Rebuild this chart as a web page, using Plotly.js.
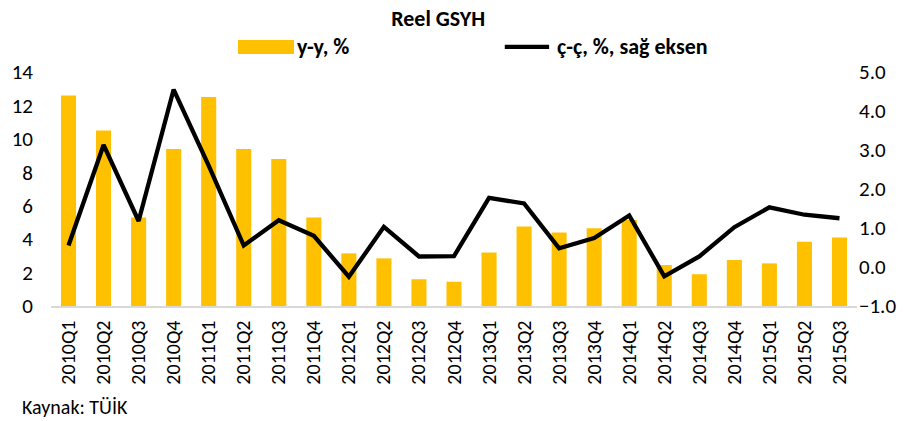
<!DOCTYPE html>
<html>
<head>
<meta charset="utf-8">
<script src="https://cdn.plot.ly/plotly-3.0.1.min.js"></script>
<style>html,body{margin:0;padding:0;background:#fff;}#chart{width:909px;height:421px;}</style>
</head>
<body>
<div id="chart"></div>
<script>
const categories = ["2010Q1","2010Q2","2010Q3","2010Q4","2011Q1","2011Q2","2011Q3","2011Q4",
  "2012Q1","2012Q2","2012Q3","2012Q4","2013Q1","2013Q2","2013Q3","2013Q4",
  "2014Q1","2014Q2","2014Q3","2014Q4","2015Q1","2015Q2","2015Q3"];
const yoy = [12.6, 10.5, 5.3, 9.4, 12.5, 9.4, 8.8, 5.3,
  3.15, 2.85, 1.6, 1.45, 3.2, 4.75, 4.4, 4.65,
  5.15, 2.45, 1.9, 2.75, 2.55, 3.85, 4.1];
const qoq = [0.55, 3.13, 1.18, 4.55, 2.6, 0.55, 1.2, 0.8,
  -0.25, 1.03, 0.27, 0.28, 1.77, 1.63, 0.48, 0.74,
  1.32, -0.24, 0.27, 1.02, 1.53, 1.34, 1.25];
const leftTicks = [0, 2, 4, 6, 8, 10, 12, 14];
const rightTicks = [-1, 0, 1, 2, 3, 4, 5];

const FONT = "Carlito, Lato, 'Open Sans', sans-serif";
const traces = [
  {type: "bar", x: categories, y: yoy, name: "y-y, %", marker: {color: "#FFC000"}, width: 0.43, yaxis: "y"},
  {type: "scatter", mode: "lines", x: categories, y: qoq, name: "ç-ç, %, sağ eksen", line: {color: "#000000", width: 4.3}, yaxis: "y2"}
];
const layout = {
  width: 909, height: 421,
  margin: {l: 51, r: 52, t: 72, b: 115},
  paper_bgcolor: "#fff", plot_bgcolor: "#fff",
  showlegend: false,
  font: {family: FONT, color: "#000", size: 21},
  title: {text: "<b>Reel GSYH</b>", x: 0.482, xanchor: "center", y: 0.957, yanchor: "middle", font: {family: FONT, size: 22, color: "#000"}},
  xaxis: {type: "category", tickangle: -90, showgrid: false, zeroline: false, showline: true, linecolor: "#d9d9d9", linewidth: 1.5,
    ticks: "", tickfont: {family: FONT, size: 20, color: "#000"}, ticklabelstandoff: 5},
  yaxis: {range: [0, 14], tickvals: leftTicks, showgrid: false, zeroline: false, showline: false, ticks: "",
    tickfont: {family: FONT, size: 21, color: "#000"}, ticklabelstandoff: 17},
  yaxis2: {range: [-1, 5], tickvals: rightTicks, tickformat: ".1f", overlaying: "y", side: "right", showgrid: false, zeroline: false,
    showline: false, ticks: "", tickfont: {family: FONT, size: 21, color: "#000"}, ticklabelstandoff: 1},
  shapes: [
    {type: "rect", xref: "paper", yref: "paper", x0: 0.232, x1: 0.3015, y0: 1.077, y1: 1.137, fillcolor: "#FFC000", line: {width: 0}},
    {type: "line", xref: "paper", yref: "paper", x0: 0.563, x1: 0.618, y0: 1.107, y1: 1.107, line: {color: "#000", width: 4.3}}
  ],
  annotations: [
    {xref: "paper", yref: "paper", x: 0.303, y: 1.107, xanchor: "left", yanchor: "middle", text: "<b>y-y, %</b>", showarrow: false, font: {family: FONT, size: 22}},
    {xref: "paper", yref: "paper", x: 0.625, y: 1.107, xanchor: "left", yanchor: "middle", text: "<b>ç-ç, %, sağ eksen</b>", showarrow: false, font: {family: FONT, size: 22}},
    {xref: "paper", yref: "paper", x: -0.038, y: -0.432, xanchor: "left", yanchor: "middle", text: "Kaynak: TÜİK", showarrow: false, font: {family: FONT, size: 20}}
  ]
};
Plotly.newPlot("chart", traces, layout, {displayModeBar: false, staticPlot: true});
</script>
</body>
</html>
